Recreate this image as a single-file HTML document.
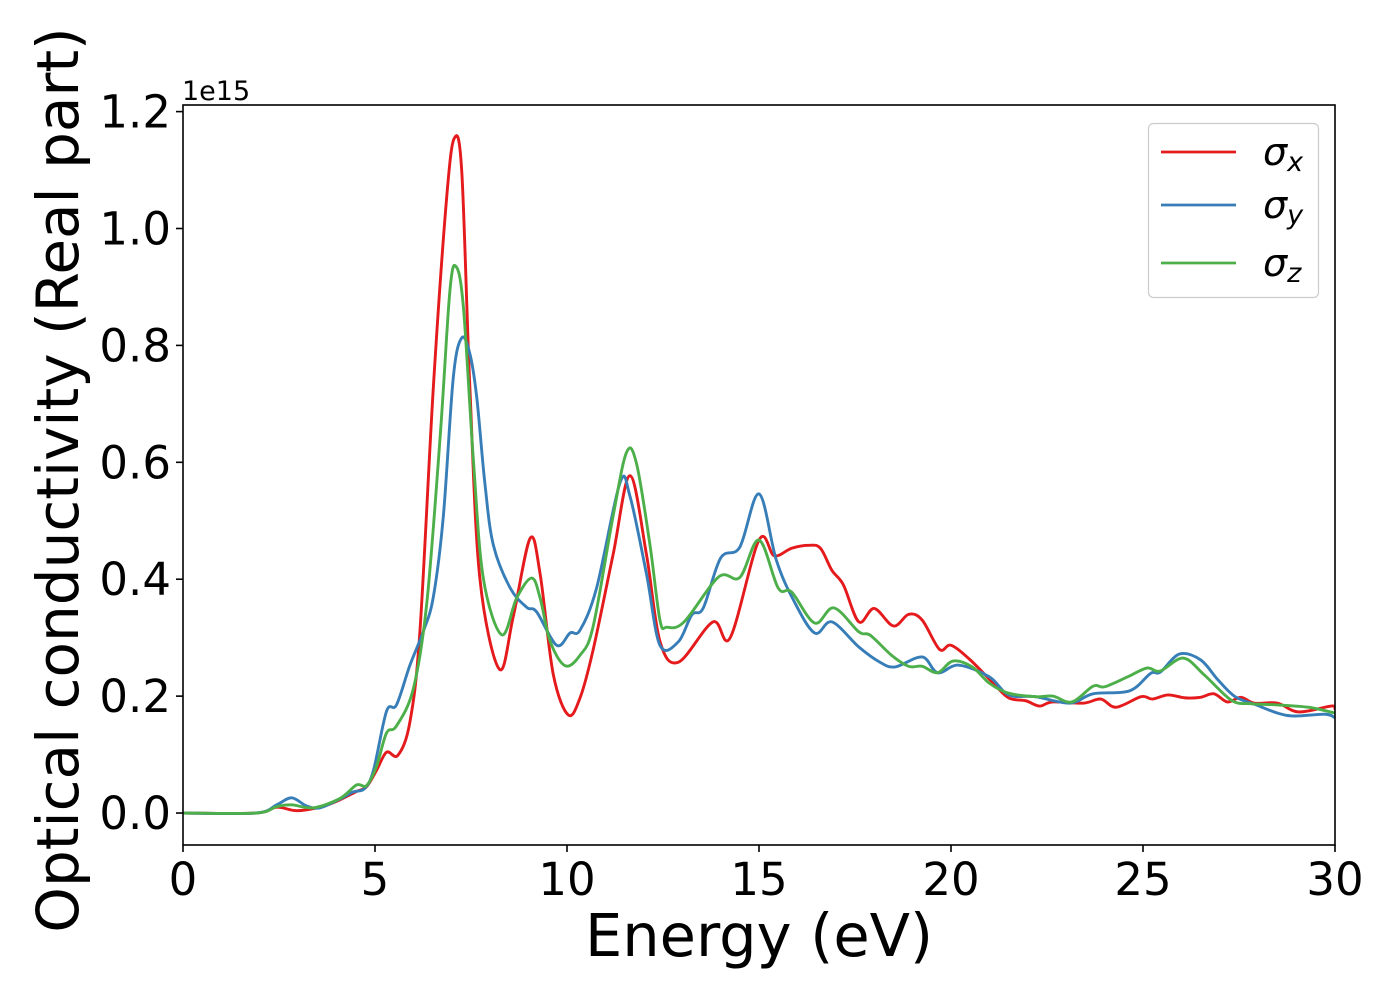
<!DOCTYPE html>
<html><head><meta charset="utf-8"><style>
html,body{margin:0;padding:0;background:#fff;width:1400px;height:1000px;overflow:hidden}
svg{display:block;font-family:"DejaVu Sans","Liberation Sans",sans-serif}
</style></head><body>
<svg id="chart" width="1400" height="1000" viewBox="0 0 1400 1000" xmlns="http://www.w3.org/2000/svg">
<rect x="183" y="105" width="1152" height="740" fill="#fff"/>
<g id="series"></g>
<rect x="183" y="105" width="1152" height="740" fill="none" stroke="#000" stroke-width="1.6"/>
<g id="xticks"></g>
<g id="yticks"></g>
<text x="182" y="100" font-size="27">1e15</text>
<text x="759" y="956" font-size="59" text-anchor="middle">Energy (eV)</text>
<text transform="translate(78,480) rotate(-90)" font-size="58" text-anchor="middle">Optical conductivity (Real part)</text>
<g>
<rect x="1148.5" y="123.5" width="170" height="174" rx="5" fill="#fff" fill-opacity="0.8" stroke="#ccc" stroke-width="1.2"/>
<line x1="1161" y1="152" x2="1236" y2="152" stroke="#e41a1c" stroke-width="2.8"/>
<text x="1263" y="165" font-size="38" font-style="italic">σ<tspan font-size="27" dy="6">x</tspan></text>
<line x1="1161" y1="205" x2="1236" y2="205" stroke="#377eb8" stroke-width="2.8"/>
<text x="1263" y="218" font-size="38" font-style="italic">σ<tspan font-size="27" dy="6">y</tspan></text>
<line x1="1161" y1="263" x2="1236" y2="263" stroke="#4daf4a" stroke-width="2.8"/>
<text x="1263" y="276" font-size="38" font-style="italic">σ<tspan font-size="27" dy="6">z</tspan></text>
</g>
</svg>
<script>
const xTickValues=[0,5,10,15,20,25,30];
const yTickValues=[0,0.2,0.4,0.6,0.8,1.0,1.2];
const yTickLabels=["0.0","0.2","0.4","0.6","0.8","1.0","1.2"];
const energyX=[0,1.9,2.44,2.96,3.57,4.0,4.52,4.78,5.04,5.3,5.6,5.91,6.17,6.52,6.87,7.07,7.26,7.47,7.73,8.24,8.6,9.04,9.3,9.64,10.03,10.34,10.68,11.2,11.64,12.07,12.42,12.9,13.8,14.25,15.0,15.4,15.85,16.3,16.6,16.9,17.2,17.6,18.0,18.5,18.9,19.25,19.7,20.0,20.5,21.1,21.5,21.95,22.3,22.65,23.45,23.9,24.3,24.95,25.25,25.65,26.1,26.5,26.85,27.2,27.55,27.9,28.5,29.05,29.9,30];
const sigmaX=[0,0,0.01,0.004,0.01,0.02,0.037,0.045,0.073,0.104,0.099,0.156,0.311,0.729,1.056,1.155,1.097,0.729,0.402,0.246,0.336,0.47,0.409,0.238,0.168,0.197,0.279,0.442,0.577,0.442,0.294,0.258,0.327,0.30,0.467,0.44,0.453,0.458,0.453,0.415,0.39,0.327,0.35,0.32,0.34,0.33,0.28,0.287,0.262,0.222,0.197,0.192,0.183,0.19,0.188,0.195,0.181,0.199,0.195,0.202,0.197,0.198,0.204,0.19,0.198,0.188,0.188,0.173,0.183,0.178];
const energyY=[0,1.9,2.44,2.83,3.22,3.57,4.09,4.43,4.73,4.96,5.3,5.56,5.91,6.26,6.52,6.78,7.04,7.26,7.47,7.65,7.86,8.08,8.52,8.95,9.21,9.73,10.08,10.34,10.77,11.38,11.64,12.07,12.42,12.9,13.25,13.55,14.0,14.5,15.0,15.45,15.9,16.45,16.9,17.6,18.15,18.55,19.25,19.65,20.2,21.0,21.5,22.2,23.1,23.7,24.65,25.2,25.45,25.95,26.5,26.95,27.4,27.95,28.5,28.95,29.75,30];
const sigmaY=[0,0,0.014,0.026,0.012,0.009,0.024,0.036,0.042,0.073,0.174,0.185,0.253,0.311,0.37,0.508,0.746,0.813,0.786,0.711,0.565,0.459,0.385,0.352,0.344,0.287,0.308,0.313,0.385,0.565,0.542,0.409,0.287,0.293,0.339,0.351,0.436,0.455,0.546,0.433,0.364,0.308,0.327,0.284,0.258,0.25,0.267,0.24,0.253,0.233,0.202,0.199,0.188,0.204,0.209,0.239,0.241,0.272,0.262,0.228,0.199,0.185,0.171,0.166,0.169,0.163];
const energyZ=[0,1.9,2.44,2.83,3.4,4.09,4.52,4.78,5.04,5.3,5.56,6.0,6.35,6.7,6.95,7.11,7.3,7.56,7.82,8.3,8.69,9.08,9.3,9.56,9.95,10.34,10.68,11.2,11.55,11.81,12.16,12.42,12.6,13.05,13.95,14.5,15.0,15.5,15.85,16.45,16.95,17.6,17.9,18.45,18.9,19.25,19.65,20.05,20.55,21.0,21.5,22.2,22.65,23.15,23.7,24.0,24.6,25.1,25.45,26.05,26.6,27.3,27.8,28.5,29.3,30];
const sigmaZ=[0,0,0.011,0.014,0.009,0.025,0.048,0.047,0.08,0.137,0.149,0.213,0.36,0.647,0.893,0.935,0.867,0.606,0.402,0.305,0.368,0.402,0.368,0.294,0.252,0.27,0.319,0.508,0.617,0.598,0.459,0.33,0.318,0.327,0.404,0.403,0.467,0.385,0.378,0.325,0.351,0.31,0.304,0.27,0.251,0.251,0.24,0.26,0.25,0.222,0.205,0.199,0.2,0.19,0.217,0.216,0.233,0.248,0.243,0.265,0.236,0.193,0.187,0.185,0.181,0.171];

const NS="http://www.w3.org/2000/svg";
const X0=183,X1=1335,YT=105,YB=845;
const xMin=0,xMax=30,yMin=-0.0547,yMax=1.2113;
function xs(v){return X0+(v-xMin)/(xMax-xMin)*(X1-X0);}
function ys(v){return YB-(v-yMin)/(yMax-yMin)*(YB-YT);}
const svg=document.getElementById('chart');

function pathFor(ex,vals){
  const p=ex.map((e,i)=>[xs(e),ys(vals[i])]);
  let d="M"+p[0][0].toFixed(2)+","+p[0][1].toFixed(2);
  for(let i=0;i<p.length-1;i++){
    const a=p[Math.max(0,i-1)],b=p[i],c=p[i+1],n=p[Math.min(p.length-1,i+2)];
    const c1=[b[0]+(c[0]-a[0])/6,b[1]+(c[1]-a[1])/6];
    const c2=[c[0]-(n[0]-b[0])/6,c[1]-(n[1]-b[1])/6];
    d+=" C"+c1[0].toFixed(2)+","+c1[1].toFixed(2)+" "+c2[0].toFixed(2)+","+c2[1].toFixed(2)+" "+c[0].toFixed(2)+","+c[1].toFixed(2);
  }
  return d;
}
const g=document.getElementById('series');
const clip=document.createElementNS(NS,'clipPath');clip.setAttribute('id','pc');
const cr=document.createElementNS(NS,'rect');cr.setAttribute('x',X0);cr.setAttribute('y',YT);cr.setAttribute('width',X1-X0);cr.setAttribute('height',YB-YT);
clip.appendChild(cr);svg.insertBefore(clip,svg.firstChild);
g.setAttribute('clip-path','url(#pc)');
[[energyX,sigmaX,'#e41a1c','sigma-x-line'],[energyY,sigmaY,'#377eb8','sigma-y-line'],[energyZ,sigmaZ,'#4daf4a','sigma-z-line']].forEach(s=>{
  const el=document.createElementNS(NS,'path');
  el.setAttribute('d',pathFor(s[0],s[1]));
  el.setAttribute('fill','none');el.setAttribute('stroke',s[2]);el.setAttribute('stroke-width','2.9');el.setAttribute('stroke-linejoin','round');
  
  
  g.appendChild(el);
});
const xt=document.getElementById('xticks');
xTickValues.forEach(v=>{
  const l=document.createElementNS(NS,'line');
  l.setAttribute('x1',xs(v));l.setAttribute('x2',xs(v));l.setAttribute('y1',YB);l.setAttribute('y2',YB+7);l.setAttribute('stroke','#000');l.setAttribute('stroke-width','1.6');
  
  
  xt.appendChild(l);
  const t=document.createElementNS(NS,'text');
  t.setAttribute('x',xs(v));t.setAttribute('y',YB+50);t.setAttribute('font-size','45');t.setAttribute('text-anchor','middle');
  t.textContent=String(v);
  
  
  xt.appendChild(t);
});
const yt=document.getElementById('yticks');
yTickValues.forEach((v,i)=>{
  const l=document.createElementNS(NS,'line');
  l.setAttribute('x1',X0-7);l.setAttribute('x2',X0);l.setAttribute('y1',ys(v));l.setAttribute('y2',ys(v));l.setAttribute('stroke','#000');l.setAttribute('stroke-width','1.6');
  
  
  yt.appendChild(l);
  const t=document.createElementNS(NS,'text');
  t.setAttribute('x',X0-12);t.setAttribute('y',ys(v)+16);t.setAttribute('font-size','45');t.setAttribute('text-anchor','end');
  t.textContent=yTickLabels[i];
  
  
  yt.appendChild(t);
});
</script>
</body></html>
